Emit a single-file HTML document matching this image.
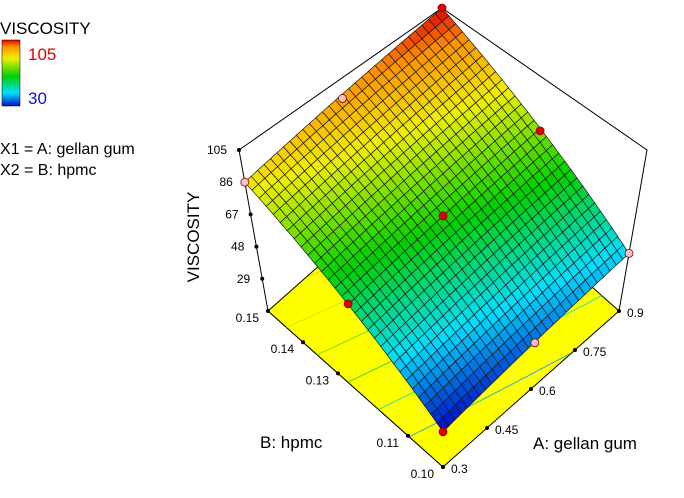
<!DOCTYPE html>
<html><head><meta charset="utf-8"><style>
body{margin:0;background:#fff;}
svg text{font-family:"Liberation Sans",Arial,sans-serif;}
</style></head><body>
<svg id="chart" width="684" height="493" viewBox="0 0 684 493" xmlns="http://www.w3.org/2000/svg">
<defs>
<linearGradient id="cbar" x1="0" y1="0" x2="0" y2="1">
<stop offset="0" stop-color="#e00000"/><stop offset="0.1" stop-color="#ff9000"/><stop offset="0.28" stop-color="#f0f000"/><stop offset="0.55" stop-color="#00d000"/><stop offset="0.8" stop-color="#00e0ff"/><stop offset="1" stop-color="#0010c8"/>
</linearGradient>
</defs>
<g>
<text x="0" y="34" font-size="17">VISCOSITY</text>
<rect x="2" y="40" width="18" height="66" fill="url(#cbar)" stroke="#000" stroke-width="0.5"/>
<text x="28" y="60" font-size="17" fill="#e00000">105</text>
<text x="28" y="104" font-size="17" fill="#1010e0">30</text>
<text x="0" y="154" font-size="16">X1 = A: gellan gum</text>
<text x="0" y="175" font-size="16">X2 = B: hpmc</text>
</g>
<text transform="translate(199,237) rotate(-90)" text-anchor="middle" font-size="17">VISCOSITY</text>
<text x="260" y="448" font-size="17">B: hpmc</text>
<text x="533" y="449" font-size="17">A: gellan gum</text>
<g id="plot"></g>
</svg>
<script>
// data
const aTicks = [0.3, 0.45, 0.6, 0.75, 0.9];
const aTickLabels = ["0.3", "0.45", "0.6", "0.75", "0.9"];
const bTicks = [0.10, 0.11, 0.13, 0.14, 0.15];
const bTickLabels = ["0.10", "0.11", "0.13", "0.14", "0.15"];
const zTicks = [29, 48, 67, 86, 105];
// surface response at corners: [A low/high][B low/high]
const cornerLowA = [29, 86];   // A=0.3, B=0.10 / 0.15
const cornerHighA = [44, 105]; // A=0.9, B=0.10 / 0.15
const pointA = [0.9, 0.9, 0.6, 0.3, 0.3, 0.6, 0.3, 0.9, 0.6];
const pointB = [0.15, 0.125, 0.125, 0.125, 0.10, 0.15, 0.15, 0.10, 0.10];
const pointZ = [105, 73, 66, 58, 29, 93, 86, 44, 36];
const pointAbove = [1, 1, 1, 1, 1, 0, 0, 0, 0];

const NS = "http://www.w3.org/2000/svg";
const plot = document.getElementById('plot');
const aMin = 0.3, aMax = 0.9, bMin = 0.10, bMax = 0.15, zBase = 10;
const C = {b0:[443,467], r:[619,311], l:[268,311], t:[444,155]};
const V = {b0:[0,-176/95], r:[28/95,-161/95], l:[-29/95,-161/95], t:[-2/95,-147/95]};
function bil(p, u, v){
  return [ (1-u)*(1-v)*p.b0[0] + u*(1-v)*p.r[0] + (1-u)*v*p.l[0] + u*v*p.t[0],
           (1-u)*(1-v)*p.b0[1] + u*(1-v)*p.r[1] + (1-u)*v*p.l[1] + u*v*p.t[1] ]; }
function P(a, b, z){
  const u = (a-aMin)/(aMax-aMin), v = (b-bMin)/(bMax-bMin);
  const s = bil(C,u,v), d = bil(V,u,v);
  return [s[0] + d[0]*(z-zBase), s[1] + d[1]*(z-zBase)];
}
function surf(a, b){
  const u = (a-aMin)/(aMax-aMin), v = (b-bMin)/(bMax-bMin);
  return (1-u)*(1-v)*cornerLowA[0] + (1-u)*v*cornerLowA[1] + u*(1-v)*cornerHighA[0] + u*v*cornerHighA[1];
}
const stops = [[0,[0,16,200]],[0.2,[0,224,255]],[0.45,[0,208,0]],[0.72,[240,240,0]],[0.9,[255,144,0]],[1,[224,0,0]]];
function cmap(z){
  let t = Math.max(0, Math.min(1, (z-30)/75));
  for (let i=1;i<stops.length;i++){ if (t<=stops[i][0]){ const f=(t-stops[i-1][0])/(stops[i][0]-stops[i-1][0]); const c=stops[i-1][1].map((x,k)=>Math.round(x+(stops[i][1][k]-x)*f)); return `rgb(${c})`; } }
  return 'rgb(224,0,0)';
}
function mk(tag, attrs){ const e=document.createElementNS(NS,tag); for (const k in attrs) e.setAttribute(k, attrs[k]); plot.appendChild(e); return e; }
function pts(arr){ return arr.map(p=>p[0].toFixed(1)+','+p[1].toFixed(1)).join(' '); }

const z105 = zTicks[zTicks.length-1];
let e = mk('polyline',{points:pts([P(aMin,bMin,zBase),P(aMin,bMax,zBase),P(aMin,bMax,z105),P(aMax,bMax,z105),P(aMax,bMin,z105),P(aMax,bMin,zBase)]),fill:'none',stroke:'#000','stroke-width':1});


e = mk('polygon',{points:pts([P(aMin,bMin,zBase),P(aMax,bMin,zBase),P(aMax,bMax,zBase),P(aMin,bMax,zBase)]),fill:'#ffff00',stroke:'#000','stroke-width':1});


[40,50,60,70,80,90,100].forEach(lv=>{
  const line=[];
  for (let i=0;i<=40;i++){ const a=aMin+(aMax-aMin)*i/40;
    const z0=surf(a,bMin), z1=surf(a,bMax); const v=(lv-z0)/(z1-z0);
    if (v>=0 && v<=1) line.push(P(a,bMin+v*(bMax-bMin),zBase)); }
  if (line.length>1){ const c=mk('polyline',{points:pts(line),fill:'none',stroke:cmap(lv),'stroke-width':1,opacity:0.8});
    
     }
});
aTicks.forEach((a,i)=>{ const p=P(a,bMin,zBase);
  const d=mk('circle',{cx:p[0],cy:p[1],r:2,fill:'#000'});  
  const t=mk('text',{x:p[0]+8,y:p[1]+6,'font-size':12}); t.textContent=aTickLabels[i];
  
   });
bTicks.forEach((b,i)=>{ const p=P(aMin,b,zBase);
  const d=mk('circle',{cx:p[0],cy:p[1],r:2,fill:'#000'});  
  const t=mk('text',{x:p[0]-9,y:p[1]+11,'font-size':12,'text-anchor':'end'}); t.textContent=bTickLabels[i];
  
   });
zTicks.forEach(z=>{ const p=P(aMin,bMax,z);
  const d=mk('circle',{cx:p[0],cy:p[1],r:2,fill:'#000'});  
  const t=mk('text',{x:p[0]-12,y:p[1]+4,'font-size':12,'text-anchor':'end'}); t.textContent=String(z);
  
   });
function drawPoint(i){ const p=P(pointA[i],pointB[i],pointZ[i]);
  const c=mk('circle',{cx:p[0],cy:p[1],r:4,fill:pointAbove[i]?'#e00000':'#f8c0c0',stroke:'#800','stroke-width':0.8});
  
   }
const N=30, g=mk('g',{});


const cells=[];
for (let i=0;i<N;i++) for (let j=0;j<N;j++) cells.push([i,j]);
cells.sort((x,y)=>(y[0]+y[1])-(x[0]+x[1]));
cells.forEach(([i,j])=>{
  const a0=aMin+(aMax-aMin)*i/N, a1=aMin+(aMax-aMin)*(i+1)/N, b0=bMin+(bMax-bMin)*j/N, b1=bMin+(bMax-bMin)*(j+1)/N;
  const q=[P(a0,b0,surf(a0,b0)),P(a1,b0,surf(a1,b0)),P(a1,b1,surf(a1,b1)),P(a0,b1,surf(a0,b1))];
  const zc=surf((a0+a1)/2,(b0+b1)/2);
  const el=document.createElementNS(NS,'polygon');
  el.setAttribute('points',pts(q)); el.setAttribute('fill',cmap(zc)); el.setAttribute('stroke','#1a1a1a'); el.setAttribute('stroke-width','0.7');
  
  
  g.appendChild(el);
});
pointZ.forEach((z,i)=>drawPoint(i));
</script>
</body></html>
